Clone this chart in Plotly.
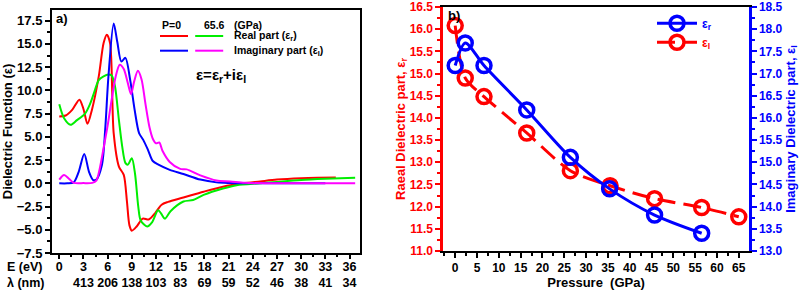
import plotly.graph_objects as go

# ---------------- Panel a) data ----------------
red_E = [0, 0.8, 1.6, 2.5, 3.0, 3.5, 4.05, 4.9, 5.5, 5.9, 6.3, 6.75, 7.4, 8.0, 8.4, 8.7, 9.0, 9.6, 10.35, 11.1, 11.9, 12.7, 13.5, 15.4, 17.9, 20.3, 22.8, 24.9, 27.0, 30.0, 32.0, 34.3]
red_v = [7.2, 7.3, 7.9, 9.0, 8.0, 6.4, 7.9, 11.5, 15.1, 16.0, 15.1, 5.4, 1.8, 0.9, -2.0, -4.5, -5.1, -4.65, -3.8, -3.9, -3.2, -2.3, -2.0, -1.53, -0.9, -0.36, 0.0, 0.2, 0.4, 0.55, 0.6, 0.62]

green_E = [0, 0.6, 1.4, 2.2, 3.2, 3.8, 4.3, 4.9, 5.5, 6.1, 6.5, 6.9, 7.4, 7.8, 8.2, 8.5, 9.0, 9.4, 9.8, 10.1, 10.9, 11.5, 12.25, 12.6, 13.1, 13.8, 15.4, 16.6, 17.9, 20.3, 22.0, 24.9, 27.0, 30.0, 33.0, 36.7]
green_v = [8.5, 7.0, 6.3, 6.8, 7.5, 8.5, 9.7, 11.1, 11.5, 11.7, 11.6, 10.5, 6.8, 4.0, 2.2, 2.0, 2.7, 1.0, -2.5, -4.0, -4.65, -4.2, -2.9, -3.2, -3.8, -3.0, -1.96, -1.8, -1.25, -0.56, -0.2, 0.0, 0.15, 0.35, 0.48, 0.6]

blue_E = [0, 1.0, 1.8, 2.4, 3.1, 3.7, 4.2, 4.6, 5.3, 5.7, 6.1, 6.75, 7.2, 7.7, 8.2, 8.8, 9.35, 9.9, 10.4, 11.0, 11.6, 12.3, 13.7, 15.4, 17.5, 19.5, 21.0, 24.0, 28.0, 33.0]
blue_v = [0, 0, 0.1, 1.2, 3.15, 1.2, 0.35, 0.4, 2.0, 5.8, 11.5, 17.2, 15.2, 13.1, 13.5, 11.1, 7.9, 5.4, 4.7, 3.6, 2.4, 2.0, 1.45, 1.0, 0.4, 0.1, 0.03, 0.0, 0.0, 0.0]

magenta_E = [0, 0.6, 1.2, 1.8, 3.0, 4.1, 4.6, 5.0, 5.5, 6.0, 6.5, 7.0, 7.5, 8.0, 8.5, 8.9, 9.3, 9.75, 10.2, 10.7, 11.2, 11.6, 12.0, 12.4, 12.8, 13.7, 15.0, 15.8, 17.5, 19.5, 21.2, 23.0, 26.0, 30.0, 36.7]
magenta_v = [0.4, 0.9, 0.5, 0.05, 0.02, 0.05, 0.3, 1.5, 3.8, 6.2, 9.0, 11.5, 12.75, 12.3, 10.8, 9.6, 11.0, 12.1, 11.2, 8.5, 6.0, 4.8, 4.3, 4.4, 3.5, 2.3, 1.55, 1.5, 0.85, 0.3, 0.2, 0.05, 0.0, 0.0, 0.0]

E_ticks = [0, 3, 6, 9, 12, 15, 18, 21, 24, 27, 30, 33, 36]
lambda_labels = ["", "413", "206", "138", "103", "83", "69", "59", "52", "46", "38", "41", "34"]
ya_ticks = [-7.5, -5.0, -2.5, 0.0, 2.5, 5.0, 7.5, 10.0, 12.5, 15.0, 17.5]

# ---------------- Panel b) data ----------------
P_er = [0, 2.3, 6.6, 16.4, 26.4, 35.4, 45.7, 56.5]
er_vals = [17.18, 17.69, 17.18, 16.18, 15.11, 14.40, 13.81, 13.40]
P_ei = [0, 2.3, 6.6, 16.4, 26.4, 35.5, 45.7, 56.5, 65.0]
ei_vals = [16.08, 14.90, 14.48, 13.66, 12.81, 12.47, 12.18, 11.98, 11.77]

FONT = "Liberation Sans, Arial, sans-serif"
RED = "#ff0000"
GREEN = "#00ee00"
BLUE = "#0000ff"
MAG = "#ff00ff"

fig = go.Figure()

for xs, ys, col in [(red_E, red_v, RED), (green_E, green_v, GREEN),
                    (blue_E, blue_v, BLUE), (magenta_E, magenta_v, MAG)]:
    fig.add_trace(go.Scatter(x=xs, y=ys, mode="lines", line=dict(color=col, width=2, shape="spline", smoothing=0.8),
                             showlegend=False, xaxis="x", yaxis="y"))

fig.add_trace(go.Scatter(x=P_er, y=er_vals, mode="lines+markers",
                         name='<span style="color:#0000ff">ε<sub>r</sub></span>',
                         line=dict(color=BLUE, width=3, shape="spline", smoothing=0.8),
                         marker=dict(symbol="circle-open", size=14, color=BLUE, line=dict(width=3.5, color=BLUE)),
                         xaxis="x2", yaxis="y3"))
fig.add_trace(go.Scatter(x=P_ei, y=ei_vals, mode="lines+markers",
                         name='<span style="color:#ff0000">ε<sub>I</sub></span>',
                         line=dict(color=RED, width=3, shape="spline", smoothing=0.8, dash="18px,8px"),
                         marker=dict(symbol="circle-open", size=14, color=RED, line=dict(width=3.5, color=RED)),
                         xaxis="x2", yaxis="y2"))

bold13 = dict(family=FONT, size=13, color="black", weight="bold")

fig.update_layout(
    width=800, height=291, margin=dict(l=0, r=0, t=0, b=0, autoexpand=False),
    paper_bgcolor="white", plot_bgcolor="white",
    font=dict(family=FONT, weight="bold"),
    xaxis=dict(domain=[0.065, 0.45], range=[-0.9, 37.3], anchor="y", automargin=False,
               tickmode="array", tickvals=E_ticks,
               ticktext=[f"{e}<br>{l}" for e, l in zip(E_ticks, lambda_labels)],
               tickfont=dict(family=FONT, size=12.5, color="black", weight="bold"),
               ticks="outside", ticklen=4, tickwidth=1.5, tickcolor="black",
               ticklabelstandoff=-3,
               minor=dict(dtick=1.5, ticks="outside", ticklen=2, tickcolor="black"),
               showline=True, linewidth=2, linecolor="black", mirror=True,
               showgrid=False, zeroline=False),
    yaxis=dict(domain=[0.1306, 0.9656], range=[-7.5, 18.65], anchor="x", automargin=False,
               tickmode="array", tickvals=ya_ticks, tickformat=".1f",
               tickfont=bold13, ticks="outside", ticklen=5, tickwidth=1.5, tickcolor="black",
               minor=dict(dtick=1.25, tick0=0, ticks="outside", ticklen=3, tickcolor="black"),
               showline=True, linewidth=2, linecolor="black", mirror=True,
               showgrid=False, zeroline=False,
               title=dict(text="Dielectric Function (ε)", font=bold13, standoff=4)),
    xaxis2=dict(domain=[0.554, 0.936], range=[-2.75, 67.3], anchor="y2", automargin=False,
                tick0=0, dtick=5,
                tickfont=dict(family=FONT, size=12, color="black", weight="bold"),
                ticks="outside", ticklen=5, tickwidth=1.5, tickcolor="black",
                minor=dict(dtick=2.5, tick0=0, ticks="outside", ticklen=3, tickcolor="black"),
                showline=True, linewidth=2, linecolor="black", mirror=True,
                showgrid=False, zeroline=False,
                title=dict(text="Pressure  (GPa)", font=bold13, standoff=2)),
    yaxis2=dict(domain=[0.1375, 0.976], range=[11.0, 16.5], anchor="x2", automargin=False,
                tick0=11, dtick=0.5, tickformat=".1f",
                tickfont=dict(family=FONT, size=12, color=RED, weight="bold"),
                ticks="outside", ticklen=5, tickwidth=1.5, tickcolor=RED,
                minor=dict(dtick=0.25, tick0=11, ticks="outside", ticklen=3, tickcolor=RED),
                showline=True, linewidth=2.5, linecolor=RED,
                showgrid=False, zeroline=False,
                title=dict(text="Raeal Dielectric part, ε<sub>r</sub>",
                           font=dict(family=FONT, size=13, color=RED, weight="bold"), standoff=2)),
    yaxis3=dict(domain=[0.1375, 0.976], range=[13.0, 18.5], anchor="x2", overlaying="y2", side="right",
                automargin=False,
                tick0=13, dtick=0.5, tickformat=".1f",
                tickfont=dict(family=FONT, size=12, color=BLUE, weight="bold"),
                ticks="outside", ticklen=5, tickwidth=1.5, tickcolor=BLUE,
                minor=dict(dtick=0.25, tick0=13, ticks="outside", ticklen=3, tickcolor=BLUE),
                showline=True, linewidth=2.5, linecolor=BLUE,
                showgrid=False, zeroline=False,
                title=dict(text="Imaginary Dielectric part, ε<sub>I</sub>",
                           font=dict(family=FONT, size=13, color=BLUE, weight="bold"), standoff=2)),
    legend=dict(x=0.815, y=0.97, xanchor="left", yanchor="top", bgcolor="rgba(0,0,0,0)",
                font=dict(family=FONT, size=12, weight="bold"), itemwidth=40, tracegroupgap=0),
    showlegend=True,
)

# custom legend for panel a)
shapes = []
for (x0, x1, y, col) in [(0.200, 0.235, 0.8763, RED), (0.244, 0.279, 0.8763, GREEN),
                         (0.200, 0.235, 0.8258, BLUE), (0.244, 0.279, 0.8258, MAG)]:
    shapes.append(dict(type="line", xref="paper", yref="paper", x0=x0, x1=x1, y0=y, y1=y,
                       line=dict(color=col, width=2)))
fig.update_layout(shapes=shapes)

small = dict(family=FONT, size=10.5, color="black", weight="bold")
anns = [
    dict(text="P=0", x=0.200, y=0.914, font=small),
    dict(text="65.6", x=0.253, y=0.914, font=small),
    dict(text="(GPa)", x=0.290, y=0.914, font=small),
    dict(text="Real part (ε<sub>r</sub>)", x=0.2896, y=0.8763, font=small),
    dict(text="Imaginary part (ε<sub>I</sub>)", x=0.2896, y=0.8258, font=small),
    dict(text="ε=ε<sub>r</sub>+iε<sub>I</sub>", x=0.243, y=0.742, font=dict(family=FONT, size=15, color="black", weight="bold")),
    dict(text="a)", x=0.068, y=0.935, font=bold13),
    dict(text="b)", x=0.558, y=0.948, font=bold13),
    dict(text="E (eV)", x=0.006, y=(291 - 267) / 291, font=dict(family=FONT, size=12.5, color="black", weight="bold")),
    dict(text="λ (nm)", x=0.006, y=(291 - 283) / 291, font=dict(family=FONT, size=12.5, color="black", weight="bold")),
]
for a in anns:
    fig.add_annotation(xref="paper", yref="paper", xanchor="left", yanchor="middle",
                       showarrow=False, **a)

fig.write_html("out.html", config={"displayModeBar": False},
               post_script="document.body.style.margin='0';document.body.style.overflow='hidden';")
